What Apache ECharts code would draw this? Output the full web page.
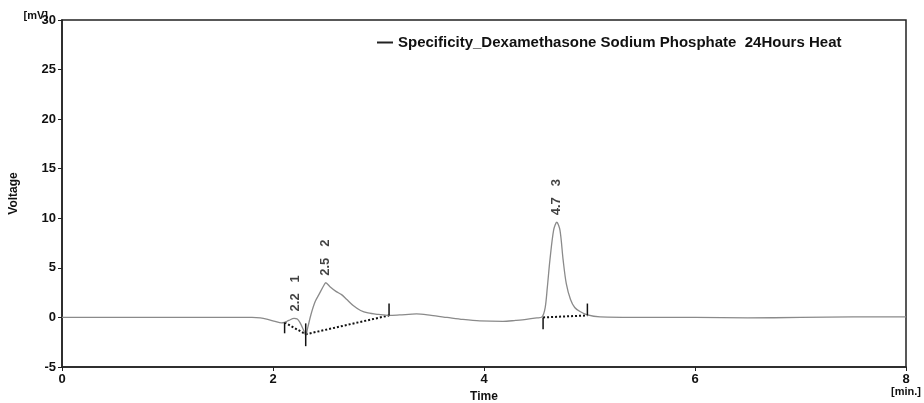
<!DOCTYPE html>
<html>
<head>
<meta charset="utf-8">
<script src="https://cdn.jsdelivr.net/npm/echarts@6/dist/echarts.min.js"></script>
<style>
html,body{margin:0;padding:0;background:#fff;}
#chart{width:924px;height:403px;}
</style>
</head>
<body>
<div id="chart"></div>
<script>
// chromatogram trace, [time min, voltage mV]
var traceData = [
  [0,0],[0.5,0],[1.0,0],[1.5,0],[1.8,0],[1.88,-0.05],[1.95,-0.2],[2.02,-0.4],[2.08,-0.55],
  [2.11,-0.5],[2.15,-0.3],[2.2,-0.1],[2.23,-0.15],[2.26,-0.6],[2.29,-1.3],[2.31,-1.8],
  [2.33,-1.0],[2.36,0.3],[2.40,1.6],[2.44,2.4],[2.48,3.2],[2.50,3.5],[2.54,3.1],[2.6,2.6],
  [2.65,2.3],[2.70,1.8],[2.76,1.2],[2.83,0.7],[2.9,0.45],[3.0,0.3],[3.1,0.2],[3.2,0.25],
  [3.36,0.35],[3.5,0.2],[3.65,0],[3.8,-0.2],[3.96,-0.35],[4.18,-0.4],[4.3,-0.3],[4.4,-0.2],
  [4.5,-0.05],[4.55,0.05],[4.58,1.0],[4.60,3.0],[4.625,5.8],[4.66,8.8],[4.69,9.6],[4.72,8.8],
  [4.75,5.8],[4.78,3.4],[4.82,1.8],[4.86,1.0],[4.91,0.6],[4.98,0.25],[5.1,0.05],[5.5,0],
  [6.0,0],[6.5,-0.05],[7.0,0],[7.5,0.05],[8.0,0.05]
];

// integration baselines (dotted)
var baseline1 = [[2.11,-0.5],[2.31,-1.7]];
var baseline2 = [[2.31,-1.7],[3.10,0.2]];
var baseline3 = [[4.56,0],[4.98,0.2]];

// peak start/end ticks: [time, top, bottom]
var peakTicks = [
  [2.11,-0.5,-1.6],
  [2.31,-0.6,-2.9],
  [3.10,1.4,0.2],
  [4.56,0,-1.2],
  [4.98,1.4,0.2]
];

// peak apex labels
var peakTimes = [2.21, 2.50, 4.69];
var peakHeights = [-0.1, 3.5, 9.6];
var peakNames = ['2.2   1', '2.5   2', '4.7   3'];

var xTicks = [0, 2, 4, 6, 8];
var yTicks = [-5, 0, 5, 10, 15, 20, 25, 30];

var legendName = 'Specificity_Dexamethasone Sodium Phosphate  24Hours Heat';
var font = 'Liberation Sans, Arial, sans-serif';

var chart = echarts.init(document.getElementById('chart'));

var peakLabelData = peakTimes.map(function(t, i){
  return {value:[t, peakHeights[i]], name:peakNames[i]};
});

function dotted(data){
  return {
    type:'line', data:data, symbol:'none', silent:true,
    lineStyle:{color:'#111', width:2, type:[2,2]}, z:3
  };
}

chart.setOption({
  animation:false,
  backgroundColor:'#fff',
  grid:{left:62, right:18, top:20, bottom:36, show:true, borderColor:'#222', borderWidth:1.5,
    outerBoundsMode:'none', containLabel:false},
  legend:{
    data:[{name:legendName, icon:'rect'}],
    left:372, top:30,
    itemWidth:16, itemHeight:2,
    itemStyle:{color:'#222'},
    textStyle:{fontFamily:font, fontWeight:'bold', fontSize:15, color:'#111'}
  },
  xAxis:[{
    type:'value', min:0, max:8, interval:2,
    name:'Time', nameLocation:'middle', nameGap:22,
    nameTextStyle:{fontFamily:font, fontWeight:'bold', fontSize:12, color:'#111'},
    axisLine:{show:true, onZero:false, lineStyle:{color:'#222', width:1.5}},
    axisTick:{show:true, length:4, lineStyle:{color:'#222'}},
    axisLabel:{fontFamily:font, fontWeight:'bold', fontSize:13, color:'#111', margin:6,
      formatter:function(v){ return xTicks.indexOf(v) >= 0 ? String(v) : ''; }},
    splitLine:{show:false}
  },{
    type:'value', min:0, max:8, position:'bottom',
    name:'[min.]', nameLocation:'end', nameGap:0, nameMoveOverlap:false,
    nameTextStyle:{fontFamily:font, fontWeight:'bold', fontSize:11, color:'#111',
      align:'center', verticalAlign:'top', padding:[19,0,0,0]},
    axisLine:{show:false, onZero:false}, axisTick:{show:false}, axisLabel:{show:false}, splitLine:{show:false}
  }],
  yAxis:[{
    type:'value', min:-5, max:30, interval:5,
    name:'[mV]', nameLocation:'end', nameGap:4, nameMoveOverlap:false,
    nameTextStyle:{fontFamily:font, fontWeight:'bold', fontSize:11, color:'#111',
      align:'right', verticalAlign:'middle', padding:[0,14,0,0]},
    axisLine:{show:true, onZero:false, lineStyle:{color:'#222', width:1.5}},
    axisTick:{show:true, length:4, lineStyle:{color:'#222'}},
    axisLabel:{fontFamily:font, fontWeight:'bold', fontSize:13, color:'#111', margin:6,
      formatter:function(v){ return yTicks.indexOf(v) >= 0 ? String(v) : ''; }},
    splitLine:{show:false}
  },{
    type:'value', min:-5, max:30, position:'left',
    name:'Voltage', nameLocation:'middle', nameGap:42,
    nameTextStyle:{fontFamily:font, fontWeight:'bold', fontSize:12, color:'#111'},
    axisLine:{show:false, onZero:false}, axisTick:{show:false}, axisLabel:{show:false}, splitLine:{show:false}
  }],
  series:[
    {
      name:legendName, type:'line', data:traceData, symbol:'none', smooth:0.3,
      lineStyle:{color:'#8a8a8a', width:1.3}, itemStyle:{color:'#222'}, z:4
    },
    dotted(baseline1),
    dotted(baseline2),
    dotted(baseline3),
    {
      type:'custom', silent:true, data:peakTicks, z:5,
      renderItem:function(params, api){
        var top = api.coord([api.value(0), api.value(1)]);
        var bot = api.coord([api.value(0), api.value(2)]);
        return {type:'line', shape:{x1:top[0], y1:top[1], x2:bot[0], y2:bot[1]},
          style:{stroke:'#111', lineWidth:1.5}};
      }
    },
    {
      type:'scatter', data:peakLabelData, symbolSize:0, silent:true,
      label:{show:true, position:'top', distance:7, rotate:90, align:'left', verticalAlign:'middle',
        formatter:'{b}', fontFamily:font, fontWeight:'bold', fontSize:13, color:'#111'}
    }
  ]
});
</script>
</body>
</html>
